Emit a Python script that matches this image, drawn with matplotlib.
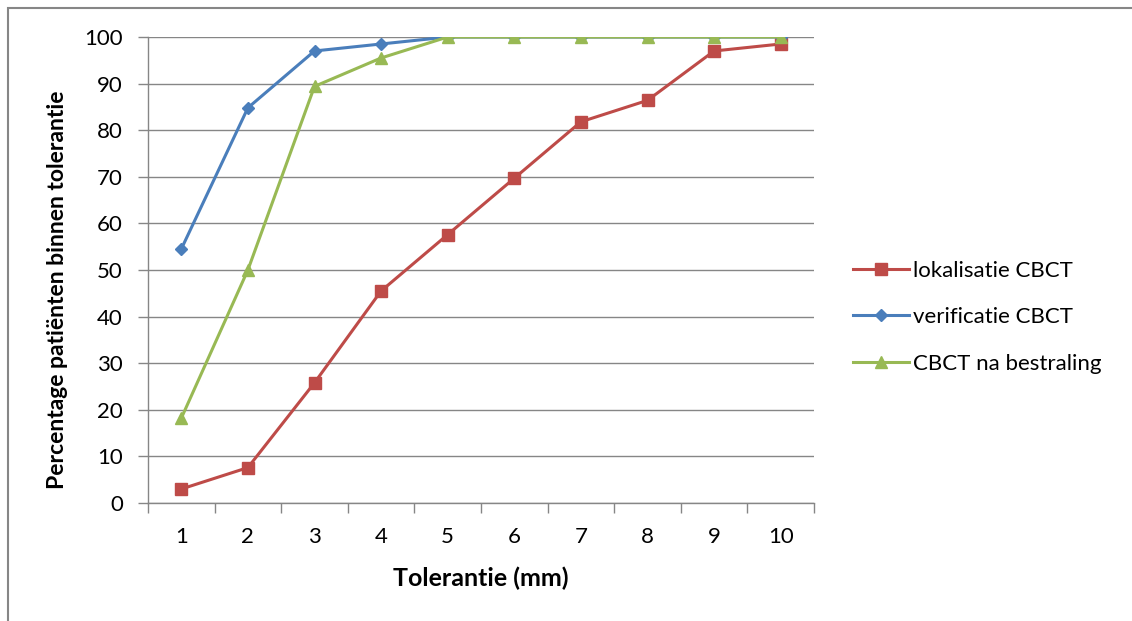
import matplotlib
matplotlib.use("Agg")
import matplotlib.pyplot as plt
from matplotlib.patches import Rectangle

categories = ["1", "2", "3", "4", "5", "6", "7", "8", "9", "10"]
lokalisatie = [3.0, 7.6, 25.8, 45.5, 57.6, 69.7, 81.8, 86.4, 97.0, 98.5]
verificatie = [54.5, 84.8, 97.0, 98.5, 100, 100, 100, 100, 100, 100]
na_bestraling = [18.2, 50.0, 89.4, 95.5, 100, 100, 100, 100, 100, 100]
series_names = ["lokalisatie CBCT", "verificatie CBCT", "CBCT na bestraling"]
yticks = list(range(0, 101, 10))

plt.rcParams['font.family'] = ['Lato', 'DejaVu Sans']

W, H = 1132, 621
fig = plt.figure(figsize=(W / 100, H / 100), dpi=100)
ax = fig.add_axes([148 / W, 1 - 503 / H, (814 - 148) / W, (503 - 37) / H])

x = list(range(len(categories)))
ax.plot(x, lokalisatie, color='#BE4B48', lw=2.2, marker='s', ms=8, label=series_names[0], zorder=3)
ax.plot(x, verificatie, color='#4A7EBB', lw=2.2, marker='D', ms=6, label=series_names[1], zorder=4)
ax.plot(x, na_bestraling, color='#98B954', lw=2.2, marker='^', ms=8, label=series_names[2], zorder=5)

ax.set_xlim(-0.5, len(categories) - 0.5)
ax.set_ylim(0, 100)
ax.set_yticks(yticks)
ax.set_yticklabels([str(v) for v in yticks], fontsize=16)
ax.set_xticks(x)
ax.set_xticklabels(categories, fontsize=16)
ax.set_xticks([i - 0.5 for i in range(len(categories) + 1)], minor=True)
ax.tick_params(axis='x', which='major', length=0, pad=17)
ax.tick_params(axis='x', which='minor', length=7, color='#868686', width=1)
ax.tick_params(axis='y', length=7, color='#868686', width=1, pad=11)
ax.yaxis.grid(True, color='#868686', lw=1)
ax.set_axisbelow(True)
for s in ['top', 'right']:
    ax.spines[s].set_visible(False)
for s in ['left', 'bottom']:
    ax.spines[s].set_color('#868686')
    ax.spines[s].set_linewidth(1)

fig.text(58 / W, 1 - 289.5 / H, "Percentage patiënten binnen tolerantie", fontsize=16.5,
         fontweight='bold', rotation=90, ha='center', va='center')
fig.text(481 / W, 1 - 578 / H, "Tolerantie (mm)", fontsize=18, fontweight='bold',
         ha='center', va='center')

ax.legend(loc='center left', bbox_to_anchor=(1.0586, 0.399), frameon=False, fontsize=16,
          handlelength=2.5, labelspacing=1.19, handletextpad=0.18, borderpad=0, borderaxespad=0)

fig.patches.append(Rectangle((8 / W, -0.1), 1.2, 1 - 7.5 / H + 0.1, transform=fig.transFigure,
                             fill=False, edgecolor='#868686', lw=1.5))

fig.savefig("out.png", dpi=100)
